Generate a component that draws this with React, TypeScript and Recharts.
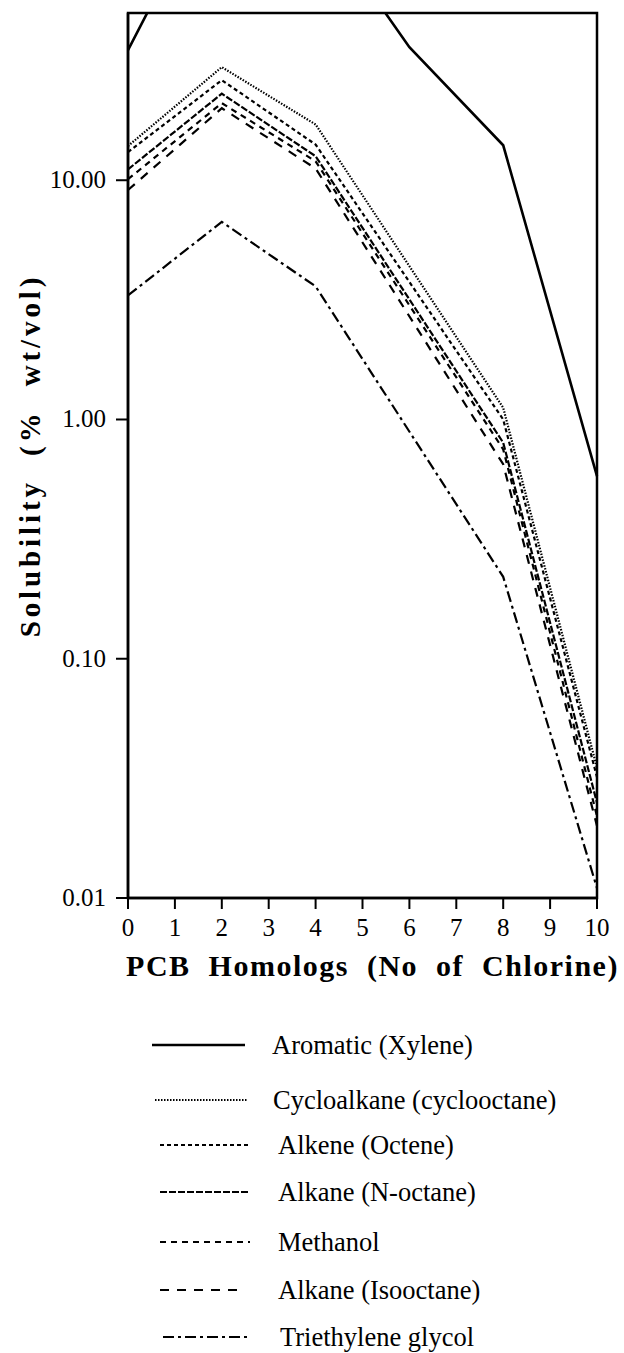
import React from "react";
import { LineChart, Line, XAxis, YAxis, ReferenceArea } from "recharts";

// Number of chlorine atoms (PCB homologs)
const chlorines = [0, 2, 4, 6, 8, 10];
// Solubility (% wt/vol); null = no point at that homolog
const xylene = [35, 200, 130, 36, 14, 0.58];
const cyclooctane = [13.9, 29.7, 17.1, null, 1.12, 0.035];
const octene = [13.1, 26.2, 14.1, null, 1.0, 0.032];
const nOctane = [11.1, 23.0, 12.6, null, 0.8, 0.025];
const methanol = [10.1, 21.0, 12.0, null, 0.75, 0.022];
const isooctane = [9.1, 20.0, 11.2, null, 0.65, 0.02];
const teg = [3.3, 6.7, 3.6, null, 0.22, 0.011];

const xTicks = [0, 1, 2, 3, 4, 5, 6, 7, 8, 9, 10];
const yTicks = [0.01, 0.1, 1, 10];

const series = [
  { key: "xylene", name: "Aromatic (Xylene)", values: xylene, dash: undefined as string | undefined, width: 2.6 },
  { key: "cyclooctane", name: "Cycloalkane (cyclooctane)", values: cyclooctane, dash: "1.5 1.5", width: 2.2 },
  { key: "octene", name: "Alkene (Octene)", values: octene, dash: "4 3", width: 2.2 },
  { key: "nOctane", name: "Alkane (N-octane)", values: nOctane, dash: "7 2", width: 2.2 },
  { key: "methanol", name: "Methanol", values: methanol, dash: "6 5", width: 2.2 },
  { key: "isooctane", name: "Alkane (Isooctane)", values: isooctane, dash: "9 8", width: 2.2 },
  { key: "teg", name: "Triethylene glycol", values: teg, dash: "11 4 3 4", width: 2.2 },
];

const data = chlorines.map((c, i) => {
  const row: Record<string, number | null> = { x: c };
  series.forEach((s) => {
    row[s.key] = s.values[i];
  });
  return row;
});

const FONT = "'Liberation Serif', 'Times New Roman', serif";

const XTick = (props: any) => {
  const { x, y, payload } = props;
  return (
    <text x={x} y={y} dy={21} textAnchor="middle" style={{ fontFamily: FONT }} fontSize={25} fill="#000">
      {payload.value}
    </text>
  );
};

const YTick = (props: any) => {
  const { x, y, payload } = props;
  return (
    <text x={x} y={y} dy={8} textAnchor="end" style={{ fontFamily: FONT }} fontSize={25} fill="#000">
      {Number(payload.value).toFixed(2)}
    </text>
  );
};

const YTitle = (props: any) => {
  const vb = props.viewBox || {};
  const cy = vb.y + vb.height / 2;
  const cx = 30;
  return (
    <text
      x={cx}
      y={cy}
      transform={`rotate(-90, ${cx}, ${cy})`}
      textAnchor="middle"
      dominantBaseline="central"
      style={{ fontFamily: FONT }}
      fontWeight="bold"
      fontSize={29}
      letterSpacing={3.9}
      wordSpacing={12}
      fill="#000"
    >
      Solubility (% wt/vol)
    </text>
  );
};

const XTitle = (props: any) => {
  const vb = props.viewBox || {};
  const cx = vb.x + vb.width / 2 + 10;
  return (
    <text
      x={cx}
      y={976}
      textAnchor="middle"
      style={{ fontFamily: FONT }}
      fontWeight="bold"
      fontSize={30}
      letterSpacing={1.5}
      wordSpacing={9}
      fill="#000"
    >
      PCB Homologs (No of Chlorine)
    </text>
  );
};

const legendRows = [25, 80, 125, 172, 222, 270, 317];
const legendLineX = [
  [152, 245],
  [155, 247],
  [160, 248],
  [160, 250],
  [160, 250],
  [160, 243],
  [163, 250],
];
const legendTextX = [272, 273, 278, 278, 278, 278, 280];

export default function App() {
  return (
    <div
      style={{
        position: "absolute",
        left: 0,
        top: 0,
        width: 624,
        height: 1353,
        background: "#fff",
        fontFamily: FONT,
      }}
    >
      <LineChart
        width={624}
        height={1010}
        data={data}
        margin={{ top: 13, right: 27, left: 0, bottom: 12 }}
      >
        <XAxis
          dataKey="x"
          type="number"
          domain={[0, 10]}
          ticks={xTicks}
          interval={0}
          height={100}
          tickSize={11}
          tickMargin={6}
          axisLine={{ stroke: "#000", strokeWidth: 2.5 }}
          tickLine={{ stroke: "#000", strokeWidth: 2 }}
          tick={<XTick />}
          label={<XTitle />}
        />
        <YAxis
          scale="log"
          domain={[0.01, 50]}
          allowDataOverflow
          ticks={yTicks}
          interval={0}
          width={128}
          tickSize={12}
          tickMargin={10}
          axisLine={{ stroke: "#000", strokeWidth: 2.5 }}
          tickLine={{ stroke: "#000", strokeWidth: 2 }}
          tick={<YTick />}
          label={<YTitle />}
        />
        <ReferenceArea x1={0} x2={10} y1={0.01} y2={50} fill="none" stroke="#000" strokeWidth={2.5} />
        {series.map((s) => (
          <Line
            key={s.key}
            dataKey={s.key}
            name={s.name}
            type="linear"
            stroke="#000"
            strokeWidth={s.width}
            strokeDasharray={s.dash}
            dot={false}
            connectNulls
            isAnimationActive={false}
          />
        ))}
      </LineChart>
      <svg width={624} height={343} style={{ position: "absolute", left: 0, top: 1010 }}>
        {series.map((s, i) => (
          <g key={s.key}>
            <line
              x1={legendLineX[i][0]}
              x2={legendLineX[i][1]}
              y1={legendRows[i] + 10}
              y2={legendRows[i] + 10}
              stroke="#000"
              strokeWidth={s.width}
              strokeDasharray={s.dash}
            />
            <text
              x={legendTextX[i]}
              y={legendRows[i] + 10}
              dominantBaseline="central"
              style={{ fontFamily: FONT }}
              fontSize={26.5}
              fill="#000"
            >
              {s.name}
            </text>
          </g>
        ))}
      </svg>
    </div>
  );
}
